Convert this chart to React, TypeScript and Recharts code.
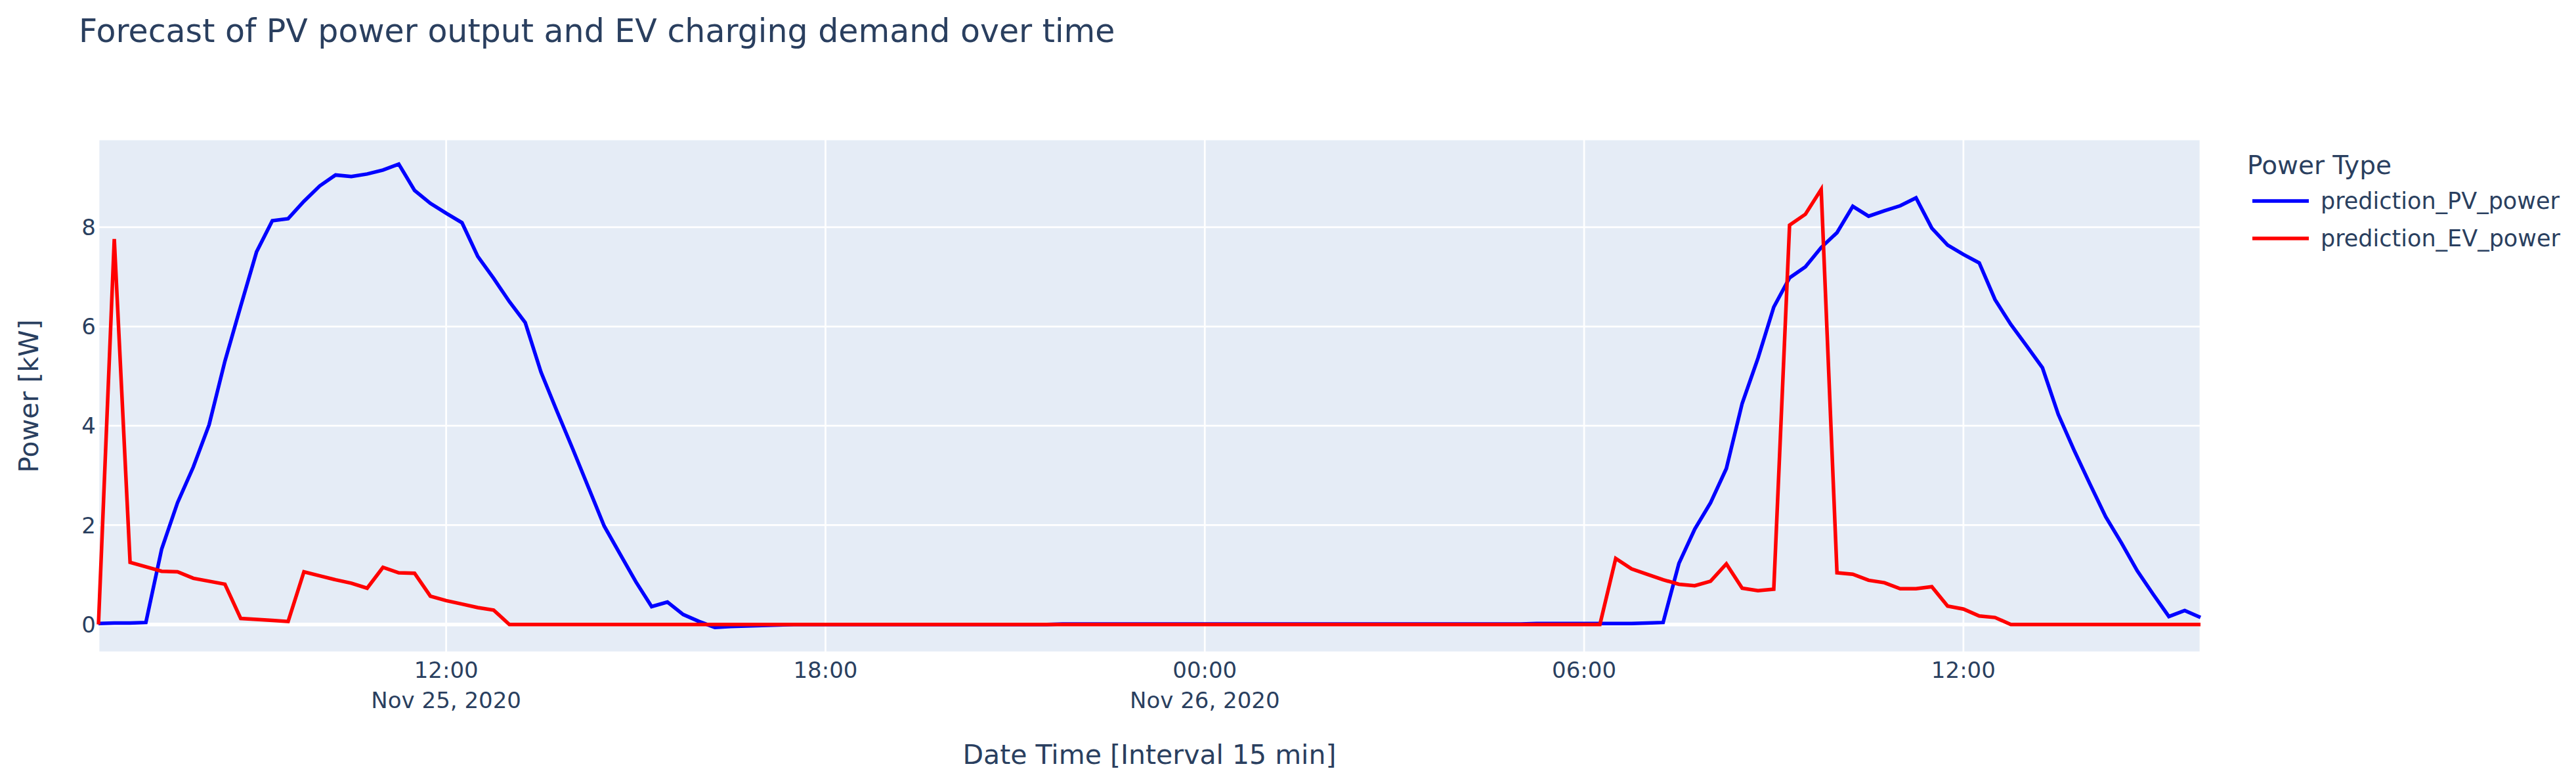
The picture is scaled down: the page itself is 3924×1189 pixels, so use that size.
import React from "react";
import {
  CartesianGrid,
  Label,
  Legend,
  Line,
  LineChart,
  ReferenceLine,
  XAxis,
  YAxis,
} from "recharts";

// 15-minute samples, Nov 25 2020 06:30 -> Nov 26 2020 15:45
const startTime = Date.UTC(2020, 10, 25, 6, 30);
const stepMs = 15 * 60 * 1000;

const pvPower = [
  0.02, 0.03, 0.03, 0.04, 1.52, 2.45, 3.17, 4.02, 5.3, 6.41, 7.5, 8.13,
  8.17, 8.52, 8.83, 9.05, 9.02, 9.07, 9.15, 9.27, 8.74, 8.48, 8.28, 8.09,
  7.41, 6.97, 6.5, 6.08, 5.08, 4.3, 3.54, 2.76, 1.98, 1.42, 0.86, 0.36,
  0.45, 0.2, 0.06, -0.06, -0.04, -0.03, -0.02, -0.01, 0, 0, 0, 0,
  0, 0, 0, 0, 0, 0, 0, 0, 0, 0, 0, 0,
  0, 0.01, 0.01, 0.01, 0.01, 0.01, 0.01, 0.01, 0.01, 0.01, 0.01, 0.01,
  0.01, 0.01, 0.01, 0.01, 0.01, 0.01, 0.01, 0.01, 0.01, 0.01, 0.01, 0.01,
  0.01, 0.01, 0.01, 0.01, 0.01, 0.01, 0.01, 0.02, 0.02, 0.02, 0.02, 0.02,
  0.02, 0.02, 0.03, 0.04, 1.23, 1.92, 2.45, 3.14, 4.45, 5.36, 6.39, 6.98,
  7.2, 7.59, 7.89, 8.42, 8.22, 8.33, 8.43, 8.59, 7.98, 7.64, 7.45, 7.28,
  6.54, 6.04, 5.61, 5.17, 4.23, 3.51, 2.83, 2.17, 1.64, 1.08, 0.61, 0.16,
  0.28, 0.14,
];

const evPower = [
  0, 7.76, 1.25, 1.16, 1.07, 1.06, 0.93, 0.87, 0.81, 0.12, 0.1, 0.08,
  0.06, 1.06, 0.98, 0.9, 0.83, 0.73, 1.15, 1.04, 1.03, 0.57, 0.48, 0.41,
  0.34, 0.29, 0, 0, 0, 0, 0, 0, 0, 0, 0, 0,
  0, 0, 0, 0, 0, 0, 0, 0, 0, 0, 0, 0,
  0, 0, 0, 0, 0, 0, 0, 0, 0, 0, 0, 0,
  0, 0, 0, 0, 0, 0, 0, 0, 0, 0, 0, 0,
  0, 0, 0, 0, 0, 0, 0, 0, 0, 0, 0, 0,
  0, 0, 0, 0, 0, 0, 0, 0, 0, 0, 0, 0,
  1.33, 1.12, 1.01, 0.9, 0.81, 0.78, 0.87, 1.22, 0.73, 0.68, 0.71, 8.04,
  8.26, 8.76, 1.04, 1.01, 0.89, 0.84, 0.72, 0.72, 0.76, 0.37, 0.31, 0.17,
  0.14, 0, 0, 0, 0, 0, 0, 0, 0, 0, 0, 0,
  0, 0,
];

const seriesNames = ["prediction_PV_power", "prediction_EV_power"];
const xTicks = [
  Date.UTC(2020, 10, 25, 12),
  Date.UTC(2020, 10, 25, 18),
  Date.UTC(2020, 10, 26, 0),
  Date.UTC(2020, 10, 26, 6),
  Date.UTC(2020, 10, 26, 12),
];
const yTicks = [0, 2, 4, 6, 8];
const monthNames = ["Jan", "Feb", "Mar", "Apr", "May", "Jun", "Jul", "Aug", "Sep", "Oct", "Nov", "Dec"];

const data = pvPower.map((pv, i) => ({
  t: startTime + i * stepMs,
  prediction_PV_power: pv,
  prediction_EV_power: evPower[i],
}));

const FONT = "'DejaVu Sans', Verdana, sans-serif";
const INK = "#2a3f5f";

const pad = (n: number) => String(n).padStart(2, "0");

function TimeTick(props: any) {
  const { x, y, payload } = props;
  const d = new Date(payload.value);
  const showDate = payload.value === xTicks[0] || d.getUTCHours() === 0;
  return (
    <text x={x} y={y} textAnchor="middle" fill={INK} fontSize={34} fontFamily={FONT}>
      <tspan x={x} dy={39}>
        {pad(d.getUTCHours())}:{pad(d.getUTCMinutes())}
      </tspan>
      {showDate && (
        <tspan x={x} dy={46}>
          {`${monthNames[d.getUTCMonth()]} ${d.getUTCDate()}, ${d.getUTCFullYear()}`}
        </tspan>
      )}
    </text>
  );
}

function YTitle() {
  return (
    <text
      x={44}
      y={603}
      transform="rotate(-90 44 603)"
      textAnchor="middle"
      dominantBaseline="central"
      fill={INK}
      fontSize={41}
      fontFamily={FONT}
    >
      Power [kW]
    </text>
  );
}

function LegendBox(props: any) {
  const items = [...(props.payload || [])].sort(
    (a: any, b: any) => seriesNames.indexOf(a.value) - seriesNames.indexOf(b.value)
  );
  return (
    <div style={{ position: "absolute", left: 0, top: 0, fontFamily: FONT, color: INK }}>
      <div style={{ position: "absolute", left: 3423, top: 229, fontSize: 39, whiteSpace: "nowrap" }}>
        Power Type
      </div>
      {items.map((it: any, i: number) => (
        <div key={it.value} style={{ position: "absolute", left: 3431, top: 306 + i * 57 - 25, height: 50, whiteSpace: "nowrap" }}>
          <svg width={86} height={50} style={{ position: "absolute", left: 0, top: 0 }}>
            <line x1={0} y1={25} x2={86} y2={25} stroke={it.color} strokeWidth={5.5} />
          </svg>
          <span style={{ position: "absolute", left: 104, top: 0, lineHeight: "50px", fontSize: 35 }}>
            {it.value}
          </span>
        </div>
      ))}
    </div>
  );
}

export default function App() {
  return (
    <div style={{ position: "relative", width: 3924, height: 1189, background: "#fff" }}>
      <style>{"body{margin:0}"}</style>
      <div
        style={{
          position: "absolute",
          left: 120,
          top: 19,
          fontFamily: FONT,
          fontSize: 49,
          color: INK,
          whiteSpace: "nowrap",
        }}
      >
        Forecast of PV power output and EV charging demand over time
      </div>
      <LineChart
        width={3924}
        height={1189}
        data={data}
        margin={{ top: 212, right: 572, bottom: 0, left: 0 }}
      >
        <CartesianGrid fill="#E5ECF6" stroke="#ffffff" strokeWidth={2.75} />
        <XAxis
          dataKey="t"
          type="number"
          domain={[startTime, startTime + (pvPower.length - 1) * stepMs]}
          ticks={xTicks}
          tick={<TimeTick />}
          tickLine={false}
          axisLine={false}
          tickSize={0}
          tickMargin={0}
          height={196}
          interval={0}
        >
          <Label
            value="Date Time [Interval 15 min]"
            position="insideBottom"
            offset={26}
            fill={INK}
            fontSize={41}
            fontFamily={FONT}
          />
        </XAxis>
        <YAxis
          type="number"
          domain={[-0.56, 9.77]}
          ticks={yTicks}
          width={150}
          tickLine={false}
          axisLine={false}
          tickSize={0}
          tickMargin={4}
          tick={{ fill: INK, fontSize: 34, fontFamily: FONT }}
          allowDataOverflow
        >
          <Label content={<YTitle />} />
        </YAxis>
        <ReferenceLine y={0} stroke="#ffffff" strokeWidth={5.5} />
        <Legend
          content={<LegendBox />}
          wrapperStyle={{ left: 0, top: 0, width: 0, height: 0, overflow: "visible" }}
        />
        <Line
          type="linear"
          dataKey="prediction_PV_power"
          stroke="#0000ff"
          strokeWidth={5.5}
          dot={false}
          isAnimationActive={false}
        />
        <Line
          type="linear"
          dataKey="prediction_EV_power"
          stroke="#ff0000"
          strokeWidth={5.5}
          dot={false}
          isAnimationActive={false}
        />
      </LineChart>
    </div>
  );
}
